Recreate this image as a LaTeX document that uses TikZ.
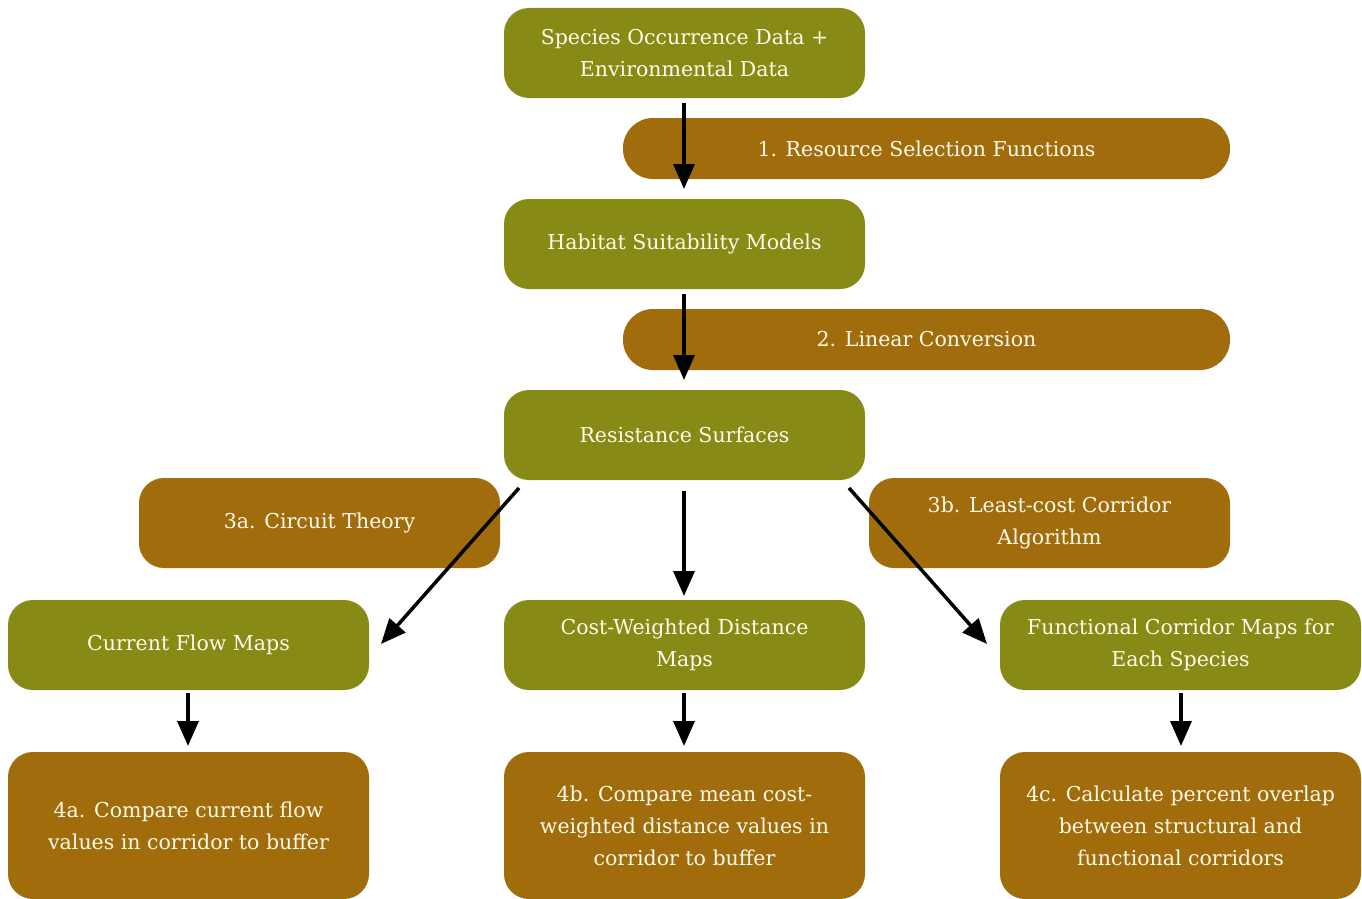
\documentclass[tikz,border=0pt]{standalone}
\usepackage{fontspec}
\setmainfont{DejaVu Serif}
\usetikzlibrary{arrows.meta}
\definecolor{olive}{RGB}{135,139,22}
\definecolor{brownbox}{RGB}{160,108,12}
\definecolor{txt}{RGB}{255,250,235}
\begin{document}
\begin{tikzpicture}[x=1pt,y=-1pt,
  base/.style={rounded corners=25pt, text=txt, align=center, inner sep=0pt,
    font=\fontsize{20.5}{32}\selectfont},
  green/.style={base, fill=olive, minimum width=361pt, minimum height=90pt},
  brownlab/.style={base, fill=brownbox, minimum width=607pt, minimum height=61pt, rounded corners=30pt},
  brownmid/.style={base, fill=brownbox, minimum width=361pt, minimum height=90pt},
  brownbig/.style={base, fill=brownbox, minimum width=361pt, minimum height=147pt},
  arr/.style={line width=3.5pt, -{Triangle[length=25pt,width=21pt]}}]
\useasboundingbox (0,0) rectangle (1362,899);
\node[green] (src) at (684.5,53) {Species Occurrence Data +\\Environmental Data};
\node[brownlab] (l1) at (926.5,148.5) {1. Resource Selection Functions};
\node[green] (hsm) at (684.5,244) {Habitat Suitability Models};
\node[brownlab] (l2) at (926.5,339.5) {2. Linear Conversion};
\node[green] (res) at (684.5,435) {Resistance Surfaces};
\node[brownmid] (l3a) at (319.5,523) {3a. Circuit Theory};
\node[brownmid] (l3b) at (1049.5,523) {3b. Least-cost Corridor\\Algorithm};
\node[green] (cfm) at (188.5,645) {Current Flow Maps};
\node[green] (cwd) at (684.5,645) {Cost-Weighted Distance\\Maps};
\node[green] (fcm) at (1180.5,645) {Functional Corridor Maps for\\Each Species};
\node[brownbig] (c4a) at (188.5,825.5) {4a. Compare current flow\\values in corridor to buffer};
\node[brownbig] (c4b) at (684.5,825.5) {4b. Compare mean cost-\\weighted distance values in\\corridor to buffer};
\node[brownbig] (c4c) at (1180.5,825.5) {4c. Calculate percent overlap\\between structural and\\functional corridors};
\coordinate (a1s) at (684,103); \coordinate (a1e) at (684,189);
\coordinate (a2s) at (684,294); \coordinate (a2e) at (684,380);
\coordinate (a3s) at (684,491); \coordinate (a3e) at (684,596);
\coordinate (d1s) at (519,488); \coordinate (d1e) at (381,644);
\coordinate (d2s) at (849,488); \coordinate (d2e) at (987,644);
\coordinate (b1s) at (188,693); \coordinate (b1e) at (188,746);
\coordinate (b2s) at (684,693); \coordinate (b2e) at (684,746);
\coordinate (b3s) at (1181,693); \coordinate (b3e) at (1181,746);
\draw[arr] (a1s) -- (a1e);
\draw[arr] (a2s) -- (a2e);
\draw[arr] (a3s) -- (a3e);
\draw[arr] (d1s) -- (d1e);
\draw[arr] (d2s) -- (d2e);
\draw[arr] (b1s) -- (b1e);
\draw[arr] (b2s) -- (b2e);
\draw[arr] (b3s) -- (b3e);
\end{tikzpicture}
\end{document}
